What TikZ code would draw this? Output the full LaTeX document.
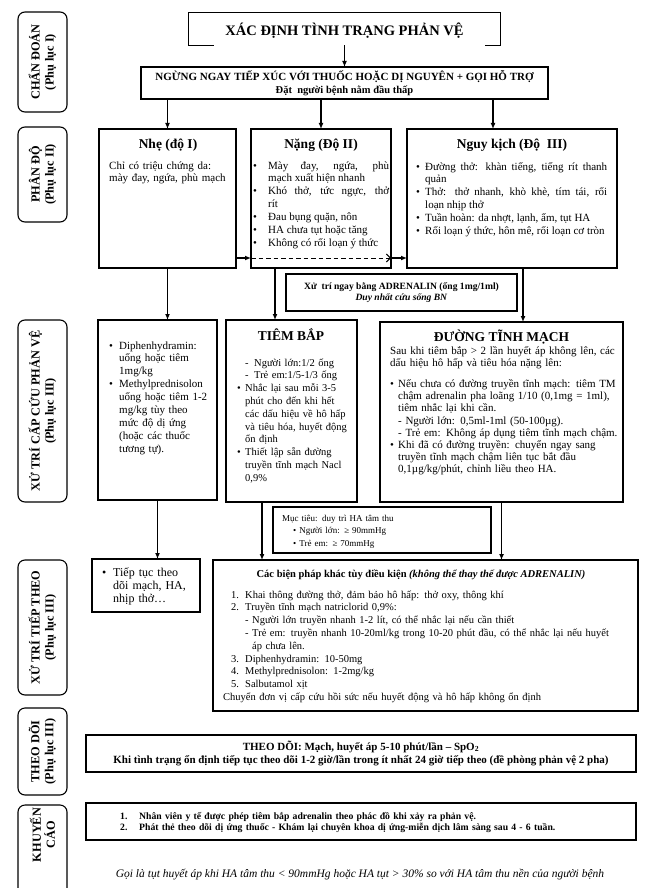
\documentclass[tikz,border=0pt]{standalone}
\usepackage{fontspec}
\setmainfont{Liberation Serif}
\usetikzlibrary{arrows.meta}
\hyphenpenalty=10000
\exhyphenpenalty=10000
\newcommand{\fs}[2]{\fontsize{#1}{#2}\selectfont}
\newcommand{\itm}[2][8pt]{\noindent\hangindent=#1\hangafter=1\makebox[#1][l]{\textbullet}#2\par}
\newcommand{\dashitm}[3]{\noindent\hangindent=#2\hangafter=1\hspace*{#1}\makebox[\dimexpr#2-#1\relax][l]{-}#3\par}
\newcommand{\numitm}[2]{\noindent\hangindent=22pt\hangafter=1\hspace*{8pt}\makebox[14pt][l]{#1}#2\par}

\begin{document}
\begin{tikzpicture}[x=1pt, y=-1pt,
  box/.style={draw, line width=1.1pt, inner sep=0pt, outer sep=0pt},
  lbl/.style={draw, rounded corners=7pt, line width=1.1pt, inner sep=0pt, rotate=90, align=center, font=\bfseries\fs{12.3}{14}},
  arr/.style={line width=1.2pt, -{Latex[length=6pt,width=5pt]}},
  hd/.style={inner sep=0pt, anchor=base, font=\bfseries\fs{13.5}{15}},
  body/.style={inner sep=0pt, anchor=base west, font=\fs{11}{12.9}}]

\useasboundingbox (0,0) rectangle (659,888);
\clip (0,0) rectangle (659,888);

% ---- LEFT COLUMN ----
\node[lbl, minimum width=100, minimum height=49] (chan) at (42.5,62) {CHẨN ĐOÁN\\(Phụ lục I)};
\node[lbl, minimum width=95, minimum height=49] (phan) at (42.5,174.5) {PHÂN ĐỘ\\(Phụ lục II)};
\node[lbl, minimum width=182, minimum height=49] (xtcc) at (42.5,411) {XỬ TRÍ CẤP CỨU PHẢN VỆ\\(Phụ lục III)};
\node[lbl, minimum width=135, minimum height=49] (xttt) at (42.5,627.5) {XỬ TRÍ TIẾP THEO\\(Phụ lục III)};
\node[lbl, minimum width=87, minimum height=49] (theo) at (42.5,751.5) {THEO DÕI\\(Phụ lục III)};
\node[lbl, minimum width=100, minimum height=49] (khuy) at (42.5,855) {};
\node[inner sep=0pt, rotate=90, align=center, font=\bfseries\fs{12.3}{14}] (khuy-t) at (42.5,835) {KHUYẾN\\CÁO};

% ---- DIAGNOSIS ----
\node[inner sep=0pt, minimum width=311, minimum height=32] (ttl) at (344.5,29) {};
\node[inner sep=0pt, anchor=base, font=\bfseries\fs{14.5}{16}] (ttl-t) at (344.5,36) {XÁC ĐỊNH TÌNH TRẠNG PHẢN VỆ};
\draw[line width=1.1pt] ([xshift=25pt]ttl.south west) -- (ttl.south west) -- (ttl.north west)
  -- (ttl.north east) -- (ttl.south east) -- ([xshift=-15pt]ttl.south east);
\node[box, minimum width=407, minimum height=32, align=center, font=\bfseries\fs{11}{12.5}] (ngung) at (344.5,83)
  {NGỪNG NGAY TIẾP XÚC VỚI THUỐC HOẶC DỊ NGUYÊN + GỌI HỖ TRỢ\\{\fs{10.5}{12}Đặt\ \ người bệnh nằm đầu thấp}};
\draw[arr] (ttl.south) -- (ngung.north);

% ---- GRADES ----
\node[box, minimum width=137, minimum height=139] (nhe) at (167.5,198.5) {};
\node[box, minimum width=140, minimum height=139] (nang) at (321,198.5) {};
\node[box, minimum width=210, minimum height=139] (nguy) at (512,198.5) {};
\coordinate (nguyin) at ([xshift=-19pt]nguy.north);
\draw[arr] (ngung.south -| nhe.north) -- (nhe.north);
\draw[arr] (ngung.south -| nang.north) -- (nang.north);
\draw[arr] (ngung.south -| nguyin) -- (nguyin);

\node[hd] (nhe-t) at (168,148) {Nhẹ (độ I)};
\node[body, text width=125, align=left] (nhe-b) at (109,169) {Chỉ có triệu chứng da:\\mày đay, ngứa, phù mạch};

\node[hd] (nang-t) at (321,148) {Nặng (Độ II)};
\node[body, text width=136, align=justify] (nang-b) at (253,169) {%
\itm[15pt]{Mày đay, ngứa, phù\linebreak mạch xuất hiện nhanh}
\itm[15pt]{Khó thở, tức ngực, thở\linebreak rít}
\itm[15pt]{Đau bụng quặn, nôn}
\itm[15pt]{HA chưa tụt hoặc tăng}
\itm[15pt]{Không có rối loạn ý thức}};

\node[hd] (nguy-t) at (512,148) {Nguy kịch (Độ\ \ III)};
\node[body, text width=191, align=justify] (nguy-b) at (416,170) {%
\itm[9pt]{Đường thở: khàn tiếng, tiếng rít thanh\linebreak quản}
\itm[9pt]{Thở: thở nhanh, khò khè, tím tái, rối\linebreak loạn nhịp thở}
\itm[9pt]{Tuần hoàn: da nhợt, lạnh, ẩm, tụt HA}
\itm[9pt]{Rối loạn ý thức, hôn mê, rối loạn cơ tròn}};

% grade escalation arrows
\coordinate (lvl) at ([yshift=10pt]nhe.south east);
\draw[arr] (lvl) -- (lvl -| nang.west);
\draw[line width=1pt, dash pattern=on 4.5pt off 3pt, -{Straight Barb[length=4pt,width=8pt]}] (lvl -| nang.west) -- (lvl -| nang.east);
\draw[arr] (lvl -| nang.east) -- (lvl -| nguy.west);

% ---- EMERGENCY TREATMENT ----
\node[box, minimum width=231, minimum height=37, align=center, font=\bfseries\fs{9.6}{11.5}] (adr) at (401.5,292.5)
  {Xử\ \ trí ngay bằng ADRENALIN (ống 1mg/1ml)\\\textit{Duy nhất cứu sống BN}};

\node[box, minimum width=119, minimum height=180] (diph) at (157.5,410) {};
\node[box, minimum width=131, minimum height=182] (tiem) at (291.5,411) {};
\node[box, minimum width=243, minimum height=180] (dtm) at (501.5,412) {};
\coordinate (nangout) at ([xshift=-46pt]nang.south);
\coordinate (nguyout) at ([xshift=11pt]nguy.south);
\draw[arr] (nhe.south) -- (nhe.south |- diph.north);
\draw[arr] (nangout) -- (nangout |- tiem.north);
\draw[arr] (nguyout) -- (nguyout |- dtm.north);

\node[body, text width=105, align=left] (diph-b) at (109,349) {%
\itm[10pt]{Diphenhydramin:\newline uống hoặc tiêm\newline 1mg/kg}
\itm[10pt]{Methylprednisolon\newline uống hoặc tiêm 1-2\newline mg/kg tùy theo\newline mức độ dị ứng\newline (hoặc các thuốc\newline tương tự).}};

\node[hd] (tiem-t) at (291,340) {TIÊM BẮP};
\node[body, text width=118, align=left, font=\fs{10.5}{12.8}] (tiem-b) at (237,366) {%
\dashitm{8pt}{17pt}{Người lớn:1/2 ống}
\dashitm{8pt}{17pt}{Trẻ em:1/5-1/3 ống}
\itm[8pt]{Nhắc lại sau mỗi 3-5\newline phút cho đến khi hết\newline các dấu hiệu về hô hấp\newline và tiêu hóa, huyết động\newline ổn định}
\itm[8pt]{Thiết lập sẵn đường\newline truyền tĩnh mạch Nacl\newline 0,9\%}};

\node[hd] (dtm-t) at (501.5,341) {ĐƯỜNG TĨNH MẠCH};
\node[body, text width=230, align=left, font=\fs{11}{12.2}] (dtm-b) at (390,354) {%
Sau khi tiêm bắp > 2 lần huyết áp không lên, các\newline dấu hiệu hô hấp và tiêu hóa nặng lên:\par\vspace{9pt}
\itm[8pt]{Nếu chưa có đường truyền tĩnh mạch: tiêm TM\newline chậm adrenalin pha loãng 1/10 (0,1mg = 1ml),\newline tiêm nhắc lại khi cần.\newline - Người lớn: 0,5ml-1ml (50-100µg).\newline - Trẻ em: Không áp dụng tiêm tĩnh mạch chậm.}
\itm[8pt]{Khi đã có đường truyền: chuyển ngay sang\newline truyền tĩnh mạch chậm liên tục bắt đầu\newline 0,1µg/kg/phút, chỉnh liều theo HA.}};

% ---- FOLLOW-UP TREATMENT ----
\node[box, minimum width=218, minimum height=46] (muc) at (382,530) {};
\node[body, text width=200, align=left, font=\fs{9}{12.5}] (muc-b) at (282,521) {Mục tiêu: duy trì HA tâm thu\newline
\hspace*{11pt}\textbullet\ Người lớn: ≥ 90mmHg\newline\hspace*{11pt}\textbullet\ Trẻ em: ≥ 70mmHg};

\node[box, minimum width=108, minimum height=53] (tiep) at (146,585.5) {};
\node[box, minimum width=425, minimum height=151] (bien) at (425.5,635.5) {};
\coordinate (tiemout) at ([xshift=-29.5pt]tiem.south);
\draw[arr] (diph.south) -- (diph.south |- tiep.north);
\draw[arr] (tiemout) -- (tiemout |- bien.north);
\draw[arr] (dtm.south) -- (dtm.south |- bien.north);

\node[body, text width=95, align=left, font=\fs{12}{13}] (tiep-b) at (102,576) {%
\itm[11pt]{Tiếp tục theo\newline dõi mạch, HA,\newline nhịp thở…}};

\node[inner sep=0pt, anchor=base, font=\bfseries\fs{10.5}{12}] (bien-t) at (421,577)
  {Các biện pháp khác tùy điều kiện \textit{(không thể thay thế được ADRENALIN)}};
\node[body, text width=410, align=left, font=\fs{10.5}{12.8}] (bien-b) at (223,598) {%
\numitm{1.}{Khai thông đường thở, đảm bảo hô hấp: thở oxy, thông khí}
\numitm{2.}{Truyền tĩnh mạch natriclorid 0,9\%:}
\dashitm{22pt}{29pt}{Người lớn truyền nhanh 1-2 lít, có thể nhắc lại nếu cần thiết}
\dashitm{22pt}{29pt}{Trẻ em: truyền nhanh 10-20ml/kg trong 10-20 phút đầu, có thể nhắc lại nếu huyết\newline áp chưa lên.}
\numitm{3.}{Diphenhydramin: 10-50mg}
\numitm{4.}{Methylprednisolon: 1-2mg/kg}
\numitm{5.}{Salbutamol xịt}
\noindent Chuyển đơn vị cấp cứu hồi sức nếu huyết động và hô hấp không ổn định};

% ---- MONITORING ----
\node[box, minimum width=550, minimum height=37, align=center, font=\bfseries\fs{11}{13.5}] (mon) at (361,753.5)
  {THEO DÕI: Mạch, huyết áp 5-10 phút/lần – SpO\textsubscript{2}\\Khi tình trạng ổn định tiếp tục theo dõi 1-2 giờ/lần trong ít nhất 24 giờ tiếp theo (đề phòng phản vệ 2 pha)};

% ---- RECOMMENDATIONS ----
\node[box, minimum width=550, minimum height=37] (rec) at (361,821.5) {};
\node[body, text width=500, align=left, font=\bfseries\fs{9.7}{11}] (rec-b) at (120,819) {%
\makebox[19pt][l]{1.}Nhân viên y tế được phép tiêm bắp adrenalin theo phác đồ khi xảy ra phản vệ.\newline
\makebox[19pt][l]{2.}Phát thẻ theo dõi dị ứng thuốc - Khám lại chuyên khoa dị ứng-miễn dịch lâm sàng sau 4 - 6 tuần.};

\node[inner sep=0pt, anchor=base, font=\itshape\fs{11.5}{13}] (note) at (360,877)
  {Gọi là tụt huyết áp khi HA tâm thu < 90mmHg hoặc HA tụt > 30\% so với HA tâm thu nền của người bệnh};

\end{tikzpicture}
\end{document}
